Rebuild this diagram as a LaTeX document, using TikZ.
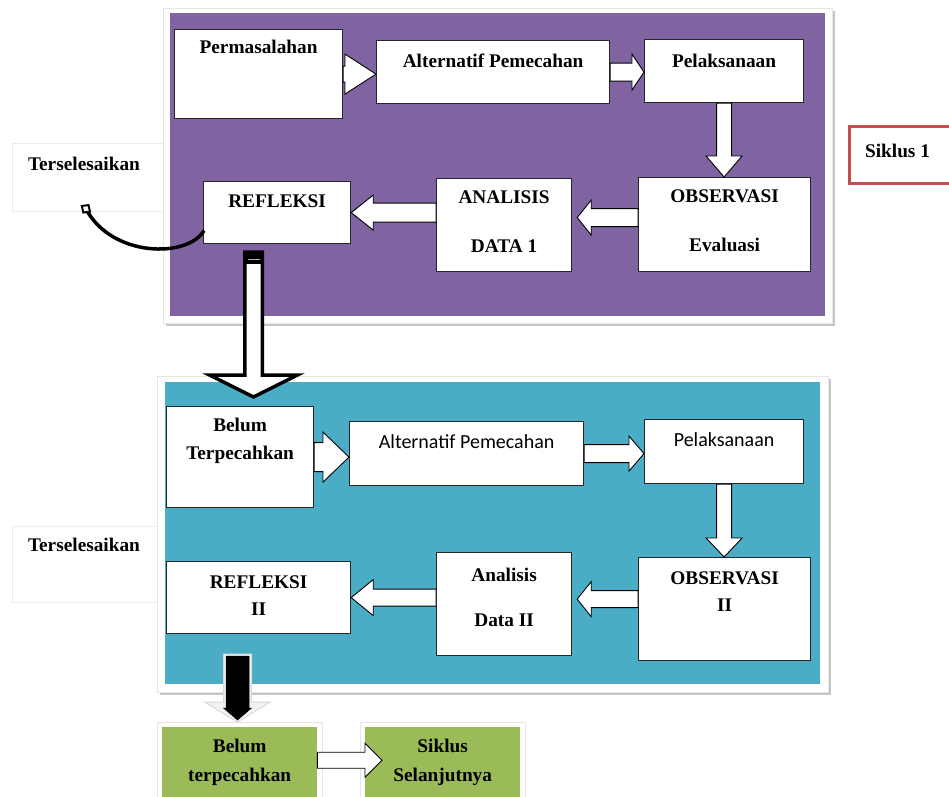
\documentclass[tikz,border=0pt]{standalone}
\usepackage{fontspec}
\setmainfont{Liberation Serif}
\newfontfamily\carl{Carlito}
\usetikzlibrary{calc,arrows.meta}
\definecolor{purp}{HTML}{8064A2}
\definecolor{cyanp}{HTML}{4BACC6}
\definecolor{grn}{HTML}{9BBB59}
\definecolor{redb}{HTML}{C0504D}
\newcommand{\blockarr}[6]{%
 \path (#1) coordinate (baS) (#2) coordinate (baE);
 \path ($(baE)!#5!(baS)$) coordinate (baH);
 \draw[#6] ($(baS)!#3!90:(baE)$) -- ($(baH)!#3!-90:(baS)$) -- ($(baH)!#4!-90:(baS)$) -- (baE) -- ($(baH)!#4!90:(baS)$) -- ($(baH)!#3!90:(baS)$) -- ($(baS)!#3!-90:(baE)$) -- cycle;
}
\tikzset{
 bx/.style={draw=black!85, line width=1.2pt, fill=white, anchor=north west, inner sep=0pt},
 lbl/.style={font=\fontsize{19.3}{22}\selectfont\bfseries, inner sep=0pt, align=center},
 sanslbl/.style={font=\carl\fontsize{20}{24}\selectfont, inner sep=0pt},
 barr/.style={fill=white, draw=black, line width=0.9pt, line join=miter},
 sidebox/.style={draw=gray!15, line width=0.8pt, fill=white, anchor=north west, inner sep=0pt}
}
\begin{document}
\begin{tikzpicture}[x=1pt,y=-1pt]
\useasboundingbox (0,0) rectangle (949,796);
% side boxes
\node[sidebox, minimum width=151pt, minimum height=68pt] (t1) at (12,143) {};
\node[sidebox, minimum width=145pt, minimum height=76pt] (t2) at (12,526) {};
\node[lbl] (t1t) at ($(t1.west)+(72,-14)$) {Terselesaikan};
\node[lbl] (t2t) at ($(t2.north west)+(72,19)$) {Terselesaikan};
% purple panel
\fill[gray!45] (166,11) rectangle (835,326);
\filldraw[fill=white, draw=gray!20, line width=1pt] (163,8) rectangle (832,323);
\fill[purp] (170,13) rectangle (825,316);
% cyan panel
\fill[gray!45] (160,379) rectangle (831,695);
\filldraw[fill=white, draw=gray!20, line width=1pt] (157,376) rectangle (828,692);
\fill[cyanp] (165,382) rectangle (820,684);
% siklus 1
\node[draw=redb, line width=3pt, fill=white, anchor=north west, minimum width=115pt, minimum height=57pt, inner sep=0pt] (s1) at (848,125) {};
\node[lbl] (s1t) at ($(s1.west)+(49.5,-4.5)$) {Siklus 1};
% purple boxes
\node[bx, minimum width=168pt, minimum height=89pt] (p1) at (174,29) {};
\node[bx, minimum width=233pt, minimum height=63pt] (a1) at (376,40) {};
\node[bx, minimum width=159pt, minimum height=63pt] (l1) at (644,39) {};
\node[bx, minimum width=172pt, minimum height=94pt] (o1) at (638,177) {};
\node[bx, minimum width=135pt, minimum height=93pt] (d1) at (436,178) {};
\node[bx, minimum width=147pt, minimum height=62pt] (r1) at (203,181) {};
\node[lbl] at ($(p1.north)+(0,18)$) {Permasalahan};
\node[lbl] at ($(a1.north)+(0,21)$) {Alternatif Pemecahan};
\node[lbl] at ($(l1.north)+(0,22)$) {Pelaksanaan};
\node[lbl] at ($(o1.north)+(0,43.5)$) {OBSERVASI\\[27pt]Evaluasi};
\node[lbl] at ($(d1.north)+(0,43.5)$) {ANALISIS\\[27pt]DATA 1};
\node[lbl] at ($(r1.north)+(0,20)$) {REFLEKSI};
% cyan boxes
\node[bx, minimum width=147pt, minimum height=101pt] (b2) at (166,406) {};
\node[bx, minimum width=234pt, minimum height=64pt] (a2) at (349,421) {};
\node[bx, minimum width=159pt, minimum height=64pt] (l2) at (644,419) {};
\node[bx, minimum width=172pt, minimum height=103pt] (o2) at (638,557) {};
\node[bx, minimum width=135pt, minimum height=103pt] (d2) at (436,552) {};
\node[bx, minimum width=184pt, minimum height=72pt] (r2) at (166,561) {};
\node[lbl] at ($(b2.north)+(0,35)$) {Belum\\[6pt]Terpecahkan};
\node[sanslbl] at ($(a2.north)+(0,21)$) {Alternatif Pemecahan};
\node[sanslbl] at ($(l2.north)+(0,21)$) {Pelaksanaan};
\node[lbl] at ($(o2.north)+(0,34.5)$) {OBSERVASI\\[5pt]II};
\node[lbl] at ($(d2.north)+(0,45.5)$) {Analisis\\[23pt]Data II};
\node[lbl] at ($(r2.north)+(0,34.5)$) {REFLEKSI\\[5pt]II};
% green boxes
\filldraw[fill=white, draw=gray!20, line width=1pt] (157,722) rectangle (322,810);
\filldraw[fill=white, draw=gray!20, line width=1pt] (360,722) rectangle (525,810);
\node[fill=grn, anchor=north west, inner sep=0pt, minimum width=155pt, minimum height=80pt] (g1) at (162,727) {};
\node[fill=grn, anchor=north west, inner sep=0pt, minimum width=155pt, minimum height=80pt] (g2) at (365,727) {};
\node[lbl] at ($(g1.north)+(0,35.5)$) {Belum\\[7pt]terpecahkan};
\node[lbl] at ($(g2.north)+(0,35.5)$) {Siklus\\[7pt]Selanjutnya};
% purple arrows
\blockarr{p1.east}{a1.west |- p1.east}{8pt}{20pt}{31pt}{barr}
\blockarr{a1.east}{l1.west |- a1.east}{9pt}{18pt}{12pt}{barr}
\blockarr{l1.south}{l1.south |- o1.north}{7.5pt}{18pt}{21pt}{barr}
\blockarr{$(o1.west)+(0,-7)$}{$(d1.east |- o1.west)+(5,-7)$}{9pt}{17.5pt}{14pt}{barr}
\blockarr{d1.west |- r1.east}{r1.east}{9.5pt}{17.5pt}{22pt}{barr}
% cyan arrows
\blockarr{b2.east}{a2.west |- b2.east}{14.5pt}{25pt}{26pt}{barr}
\blockarr{a2.east}{l2.west |- a2.east}{9pt}{17.5pt}{15pt}{barr}
\blockarr{l2.south}{l2.south |- o2.north}{7.5pt}{18pt}{19pt}{barr}
\blockarr{$(o2.west)+(0,-10)$}{$(d2.east |- o2.west)+(5,-10)$}{8.5pt}{17.5pt}{14pt}{barr}
\blockarr{d2.west |- r2.east}{r2.east}{8.5pt}{18pt}{22pt}{barr}
% green arrow
\blockarr{$(g1.east)+(0,-7)$}{$(g2.west)+(17,-7)$}{8pt}{17pt}{17pt}{barr}
% big hollow arrow
\coordinate (hA) at ($(r1.south west)+(50.5,8)$);
\coordinate (hB) at ($(b2.north west)+(87.5,-9)$);
\blockarr{hA}{hB}{8.75pt}{44pt}{22pt}{fill=white,draw=black,line width=3.5pt,line join=miter}
\fill[black] ($(hA)+(-10.5,-1)$) rectangle ($(hA)+(10.5,12)$);
\draw[gray!60, line width=1pt] ($(hA)+(-6,7)$) -- ($(hA)+(6,7)$);
% black arrow
\coordinate (kA) at ($(r2.south west)+(71.5,22)$);
\coordinate (kB) at ($(g1.north west)+(75.5,-7)$);
\blockarr{$(kA)+(0,-2)$}{$(kB)+(0,2)$}{14pt}{33pt}{20pt}{fill=gray!10,draw=gray!30,line width=1pt}
\blockarr{kA}{kB}{11.5pt}{14pt}{12pt}{fill=black,draw=black,line width=0.5pt}
% curved arrow
\coordinate (cS) at ($(r1.west)+(1,18)$);
\coordinate (cE) at ($(t1.south)+(-2,-3)$);
\draw[line width=3.5pt] (cS) .. controls (188,258) and (112,258) .. (cE);
\draw[line width=2pt, fill=white, rotate around={-35:(cE)}] ($(cE)+(-5,0)$) -- ($(cE)+(0,-4.5)$) -- ($(cE)+(5,0)$) -- ($(cE)+(0,4.5)$) -- cycle;
\end{tikzpicture}
\end{document}
